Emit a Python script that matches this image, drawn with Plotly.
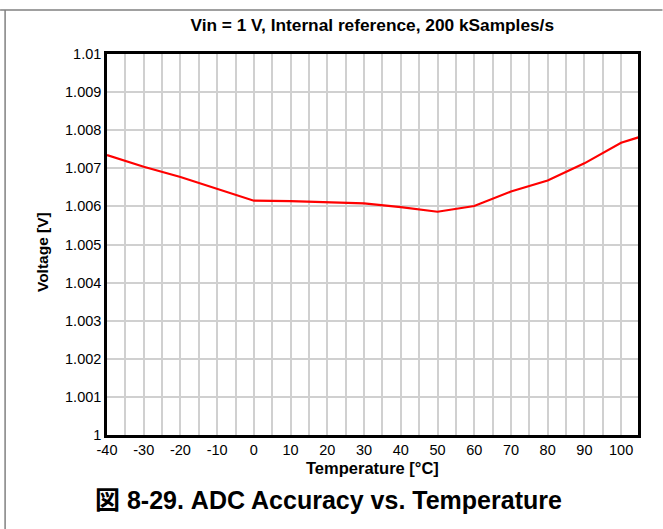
import plotly.graph_objects as go

temperature = [-40, -30, -20, -10, 0, 10, 20, 30, 40, 50, 60, 70, 80, 90, 100, 105]
voltage = [1.00735, 1.00704, 1.00677, 1.00647, 1.00615, 1.00614, 1.00611, 1.00608,
           1.00598, 1.00586, 1.00601, 1.00639, 1.00668, 1.00713, 1.00767, 1.00782]

x_ticks = [-40, -30, -20, -10, 0, 10, 20, 30, 40, 50, 60, 70, 80, 90, 100]
y_ticks = [1.0, 1.001, 1.002, 1.003, 1.004, 1.005, 1.006, 1.007, 1.008, 1.009, 1.01]
y_tick_labels = ["1", "1.001", "1.002", "1.003", "1.004", "1.005", "1.006", "1.007",
                 "1.008", "1.009", "1.01"]

W, H = 663, 529
L, R, T, B = 107, 24.5, 54, 94
pw, ph = W - L - R, H - T - B

def px(x):
    return (x - L) / pw

def py(y):
    return (H - B - y) / ph

FONT = "Arial, Liberation Sans, Noto Sans CJK JP, sans-serif"

fig = go.Figure()
fig.add_trace(go.Scatter(x=temperature, y=voltage, mode="lines",
                         line=dict(color="#ff0000", width=2.2), cliponaxis=True,
                         showlegend=False))

fig.update_layout(
    width=W, height=H,
    margin=dict(l=L, r=R, t=T, b=B),
    paper_bgcolor="white", plot_bgcolor="white",
    font=dict(family=FONT, size=14.5, color="black"),
    title=dict(text="<b>Vin = 1 V, Internal reference, 200 kSamples/s</b>",
               x=px(372.5), xref="paper", xanchor="center",
               y=1 - 25 / H, yanchor="middle", font=dict(size=17.3)),
    xaxis=dict(range=[-40, 104.6], tickvals=x_ticks, ticktext=[str(v) for v in x_ticks],
               showgrid=True, gridcolor="#d0d0d0", gridwidth=1.5,
               minor=dict(dtick=5, tick0=0, showgrid=True, gridcolor="#d0d0d0", gridwidth=1.5),
               showline=True, mirror=True, linecolor="black", linewidth=2.5,
               ticks="", zeroline=False, tickfont=dict(size=14.5)),
    yaxis=dict(range=[1.0, 1.01], tickvals=y_ticks, ticktext=y_tick_labels,
               showgrid=True, gridcolor="#d0d0d0", gridwidth=1.5,
               showline=True, mirror=True, linecolor="black", linewidth=2.5,
               ticks="", zeroline=False, tickfont=dict(size=14.5)),
    shapes=[
        dict(type="line", xref="paper", yref="paper", x0=px(0), x1=px(W), y0=py(10), y1=py(10),
             line=dict(color="#808080", width=1.5)),
        dict(type="line", xref="paper", yref="paper", x0=px(5), x1=px(5), y0=py(10), y1=py(H),
             line=dict(color="#808080", width=1.5)),
    ],
    annotations=[
        dict(text="<b>Temperature [°C]</b>", xref="paper", yref="paper",
             x=px(373), y=py(468), xanchor="center", yanchor="middle", showarrow=False,
             font=dict(size=16.5)),
        dict(text="<b>Voltage [V]</b>", xref="paper", yref="paper", textangle=-90,
             x=px(42), y=py(252), xanchor="center", yanchor="middle", showarrow=False,
             font=dict(size=15.5)),
        dict(text="<b>図 8-29. ADC Accuracy vs. Temperature</b>", xref="paper", yref="paper",
             x=px(329), y=py(500), xanchor="center", yanchor="middle", showarrow=False,
             font=dict(size=25)),
    ],
)

fig.write_html("out.html", config={"displayModeBar": False},
               post_script="document.body.style.margin='0';")
